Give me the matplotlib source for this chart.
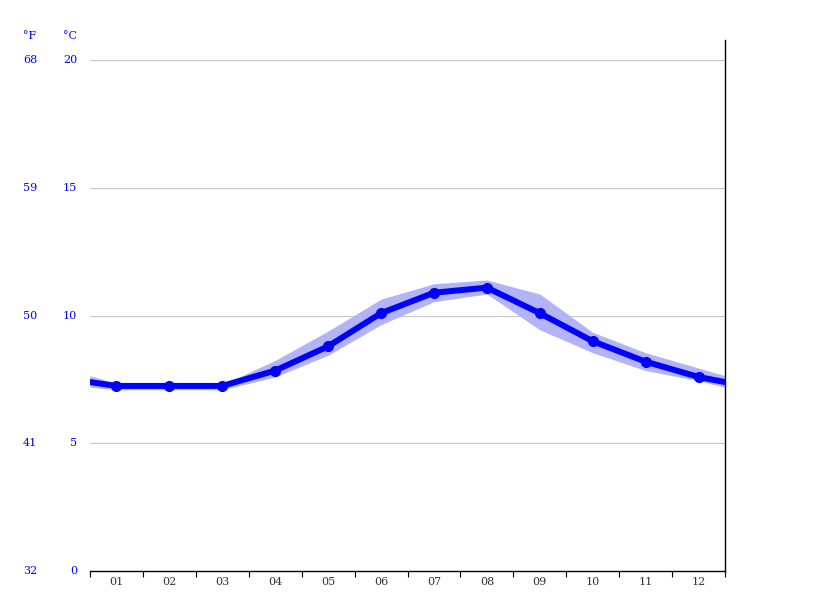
import matplotlib.pyplot as plt

# month labels and mean temperature (°C)
months = ["01", "02", "03", "04", "05", "06", "07", "08", "09", "10", "11", "12"]
temp = [7.25, 7.25, 7.25, 7.85, 8.8, 10.1, 10.9, 11.1, 10.1, 9.0, 8.2, 7.6]
temp_hi = [7.35, 7.3, 7.3, 8.25, 9.4, 10.65, 11.25, 11.4, 10.85, 9.35, 8.55, 7.95]
temp_lo = [7.1, 7.1, 7.1, 7.6, 8.45, 9.65, 10.55, 10.85, 9.45, 8.55, 7.85, 7.45]
# values where the curve meets the left / right edge
edge = 7.4
edge_hi = 7.65
edge_lo = 7.2

c_ticks = [0, 5, 10, 15, 20]
f_ticks = ["32", "41", "50", "59", "68"]

fig = plt.figure(figsize=(8.15, 6.11), dpi=100)
fig.set_facecolor("white")
ax = fig.add_axes([90/815, 40/611, 635/815, 531/611])

xs = [0] + [i + 0.5 for i in range(12)] + [12]
ys = [edge] + temp + [edge]
hi = [edge_hi] + temp_hi + [edge_hi]
lo = [edge_lo] + temp_lo + [edge_lo]

ax.fill_between(xs, lo, hi, color="#b3b3f7", lw=0, zorder=2)
ax.plot(xs, ys, color="#0000ff", lw=4.3, solid_joinstyle="round", zorder=3)
ax.plot(xs[1:-1], temp, "o", color="#0000ff", ms=7, zorder=4)

ax.set_xlim(0, 12)
ax.set_ylim(0, 20.8)

for t in c_ticks[1:]:
    ax.axhline(t, color="#c8c8c8", lw=0.8, zorder=1)

for s in ["top", "left"]:
    ax.spines[s].set_visible(False)
ax.spines["bottom"].set_color("black")
ax.spines["right"].set_color("black")
ax.spines["bottom"].set_linewidth(1.0)
ax.spines["right"].set_linewidth(1.0)

ax.set_xticks(range(13))
ax.set_xticklabels([])
ax.set_xticks([i + 0.5 for i in range(12)], minor=True)
ax.set_xticklabels(months, minor=True, family="DejaVu Serif", fontsize=8, color="#333333")
ax.tick_params(axis="x", which="major", length=4, width=0.8, color="black")
ax.tick_params(axis="x", which="minor", length=0, pad=4)
ax.set_yticks([])

tr = ax.get_yaxis_transform()
for c, f in zip(c_ticks, f_ticks):
    ax.text(-0.02, c, str(c), transform=tr, ha="right", va="center",
            family="DejaVu Serif", fontsize=8, color="#0000ff")
    ax.text(-0.083, c, f, transform=tr, ha="right", va="center",
            family="DejaVu Serif", fontsize=8, color="#0000ff")
fig.text(70/815, 1 - 36/611, "°C", ha="center", va="center",
         family="DejaVu Serif", fontsize=8, color="#0000ff")
fig.text(30/815, 1 - 36/611, "°F", ha="center", va="center",
         family="DejaVu Serif", fontsize=8, color="#0000ff")

plt.savefig("out.png", dpi=100)
